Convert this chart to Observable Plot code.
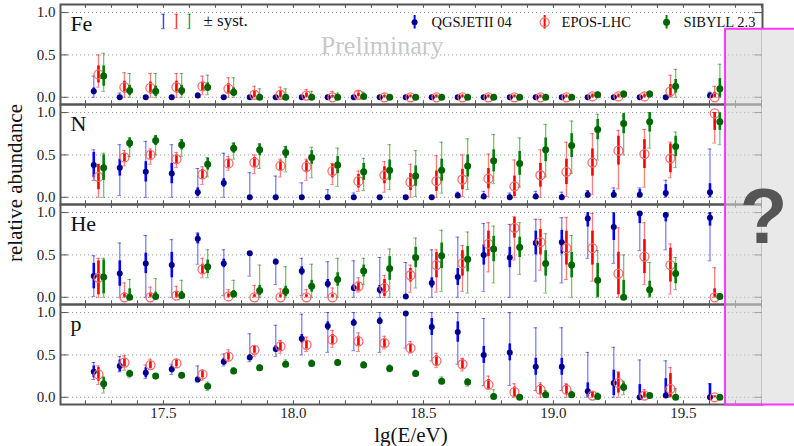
<!DOCTYPE html>
<html><head><meta charset="utf-8">
<script src="https://cdn.jsdelivr.net/npm/d3@7"></script>
<script src="https://cdn.jsdelivr.net/npm/@observablehq/plot@0.6"></script>
<style>
body{margin:0;background:#fff;}
#wrap{position:relative;width:794px;height:446px;font-family:"Liberation Serif",serif;color:#111;overflow:hidden;}
.ov{position:absolute;white-space:nowrap;line-height:1;}
</style></head><body><div id="wrap"></div>
<script>
const elements = ["Fe","N","He","p"];
const models = ["QGSJETII 04","EPOS-LHC","SIBYLL 2.3"];
const energies = [17.25,17.35,17.45,17.55,17.65,17.75,17.85,17.95,18.05,18.15,18.25,18.35,18.45,18.55,18.65,18.75,18.85,18.95,19.05,19.15,19.25,19.35,19.45,19.62];
const xTicks = [17.5,18.0,18.5,19.0,19.5];
const yTicks = [0,0.5,1.0];

// each point: [value, syst low, syst high, stat half-width]
const fe_qgs = [[0.07,0,0.25,0.04],[0,0,0.05,0.02],[0,0,0.02,0.01],[0,0,0.02,0.01],[0.02,0,0.05,0.02],[0,0,0.02,0.01],[0,0,0.02,0.01],[0,0,0.02,0.01],[0,0,0.02,0.01],[0,0,0.02,0.01],[0,0,0.02,0.01],[0,0,0.02,0.01],[0,0,0.02,0.01],[0,0,0.02,0.01],[0,0,0.02,0.01],[0,0,0.02,0.01],[0,0,0.02,0.01],[0,0,0.02,0.01],[0,0,0.02,0.01],[0,0,0.02,0.01],[0,0,0.02,0.01],[0,0,0.02,0.01],[0,0,0.02,0.01],[0.02,0,0.06,0.03]];
const fe_epos = [[0.27,0.12,0.50,0.10],[0.12,0,0.29,0.07],[0.11,0,0.28,0.07],[0.12,0,0.28,0.07],[0.13,0.03,0.25,0.05],[0.10,0,0.23,0.06],[0.03,0,0.13,0.04],[0.03,0,0.12,0.04],[0.02,0,0.09,0.03],[0,0,0.07,0.02],[0.03,0,0.07,0.02],[0,0,0.04,0.02],[0,0,0.03,0.02],[0,0,0.03,0.02],[0,0,0.03,0.02],[0,0,0.03,0.02],[0,0,0.03,0.02],[0,0,0.03,0.02],[0,0,0.03,0.02],[0.01,0,0.04,0.02],[0.01,0,0.04,0.02],[0.01,0,0.05,0.02],[0.07,0,0.26,0.08],[0,0,0.13,0.06]];
const fe_sib = [[0.25,0.07,0.52,0.12],[0.08,0,0.28,0.06],[0.07,0,0.28,0.06],[0.08,0,0.28,0.06],[0.12,0.03,0.26,0.05],[0.06,0,0.23,0.05],[0,0,0.10,0.03],[0,0,0.10,0.03],[0,0,0.07,0.02],[0,0,0.05,0.02],[0.01,0,0.06,0.02],[0,0,0.02,0.01],[0,0,0.02,0.01],[0,0,0.02,0.01],[0,0,0.02,0.01],[0,0,0.02,0.01],[0,0,0.02,0.01],[0,0,0.02,0.01],[0,0,0.02,0.01],[0.03,0,0.06,0.03],[0.04,0,0.07,0.03],[0.04,0,0.07,0.03],[0.13,0,0.33,0.08],[0.10,0,0.39,0.12]];

const n_qgs = [[0.38,0.20,0.56,0.15],[0.35,0.02,0.62,0.10],[0.30,0,0.66,0.12],[0.28,0,0.62,0.12],[0.06,0,0.34,0.05],[0.17,0,0.52,0.05],[0,0,0.29,0.02],[0,0,0.25,0.02],[0,0,0.17,0.02],[0,0,0.09,0.02],[0,0,0.05,0.02],[0,0,0.01,0.01],[0,0,0.02,0.01],[0,0,0.02,0.01],[0.02,0,0.06,0.03],[0.01,0,0.07,0.03],[0,0,0.05,0.03],[0.01,0,0.07,0.03],[0,0,0.06,0.03],[0.03,0,0.08,0.04],[0.03,0,0.11,0.05],[0.03,0,0.11,0.06],[0.05,0,0.20,0.10],[0.06,0,0.57,0.10]];
const n_epos = [[0.24,0,0.36,0.15],[0.47,0.37,0.55,0.05],[0.50,0.39,0.57,0.05],[0.45,0.35,0.53,0.05],[0.27,0.15,0.36,0.06],[0.40,0.32,0.48,0.05],[0.41,0.28,0.50,0.06],[0.37,0.24,0.45,0.06],[0.36,0.20,0.45,0.07],[0.31,0.15,0.40,0.08],[0.19,0.07,0.31,0.08],[0.26,0.06,0.42,0.10],[0.18,0,0.39,0.10],[0.19,0,0.49,0.12],[0.21,0.01,0.50,0.12],[0.22,0.01,0.51,0.12],[0.13,0,0.44,0.12],[0.26,0,0.56,0.14],[0.30,0.01,0.65,0.15],[0.41,0.03,0.75,0.16],[0.55,0.10,0.79,0.17],[0.51,0.12,0.80,0.17],[0.46,0.23,0.65,0.17],[0.99,0.64,1.0,0.20]];
const n_sib = [[0.35,0,0.52,0.15],[0.64,0.48,0.70,0.06],[0.67,0.50,0.72,0.06],[0.62,0.48,0.68,0.06],[0.39,0.24,0.47,0.07],[0.58,0.45,0.64,0.06],[0.56,0.34,0.63,0.07],[0.53,0.30,0.60,0.07],[0.47,0.23,0.59,0.08],[0.38,0.13,0.58,0.10],[0.30,0.08,0.46,0.10],[0.32,0.09,0.62,0.12],[0.25,0.01,0.55,0.12],[0.32,0.05,0.65,0.13],[0.37,0.09,0.69,0.13],[0.43,0.16,0.74,0.13],[0.40,0.12,0.70,0.14],[0.56,0.24,0.86,0.14],[0.61,0.28,0.90,0.14],[0.80,0.44,0.98,0.12],[0.87,0.50,0.96,0.12],[0.89,0.58,1.0,0.12],[0.60,0.35,0.77,0.12],[0.89,0.62,1.0,0.10]];

const he_qgs = [[0.25,0.01,0.49,0.15],[0.28,0,0.64,0.15],[0.40,0,0.73,0.12],[0.38,0,0.68,0.15],[0.69,0.39,0.76,0.06],[0.40,0.02,0.56,0.05],[0.52,0.25,0.54,0.02],[0.42,0.15,0.45,0.03],[0.31,0.02,0.46,0.05],[0.16,0,0.42,0.05],[0.11,0,0.43,0.04],[0.09,0,0.47,0.05],[0.01,0,0.41,0.02],[0.17,0,0.56,0.06],[0.24,0,0.71,0.10],[0.50,0.07,0.87,0.12],[0.47,0,0.86,0.12],[0.64,0.19,0.92,0.14],[0.65,0.17,0.94,0.14],[0.93,0.46,0.97,0.10],[0.83,0.40,1.0,0.16],[0.99,0.55,1.0,0.12],[0.97,0.56,0.98,0.08],[0.94,0.43,0.99,0.10]];
const he_epos = [[0.23,0,0.46,0.20],[0,0,0.17,0.05],[0,0,0.12,0.05],[0.02,0,0.13,0.05],[0.33,0.23,0.46,0.06],[0.01,0,0.09,0.03],[0,0,0.14,0.03],[0,0,0.10,0.03],[0,0,0.09,0.03],[0,0,0.11,0.03],[0.13,0.06,0.23,0.05],[0.11,0,0.26,0.10],[0.26,0.06,0.38,0.08],[0.38,0.06,0.56,0.15],[0.40,0.07,0.61,0.15],[0.63,0.30,0.88,0.15],[0.82,0.44,0.95,0.12],[0.65,0.32,0.92,0.15],[0.58,0.21,0.94,0.20],[0.58,0.19,0.99,0.20],[0.28,0,0.82,0.25],[0.48,0.15,0.88,0.20],[0.38,0.04,0.63,0.20],[0,0,0.35,0.10]];
const he_sib = [[0.24,0,0.46,0.20],[0,0,0.21,0.10],[0.01,0,0.22,0.05],[0.02,0,0.20,0.05],[0.36,0.23,0.56,0.08],[0.04,0,0.20,0.04],[0.08,0,0.38,0.06],[0.07,0,0.36,0.06],[0.13,0,0.39,0.07],[0.21,0,0.46,0.08],[0.31,0.15,0.46,0.07],[0.34,0,0.57,0.14],[0.47,0.11,0.70,0.12],[0.49,0.07,0.79,0.15],[0.45,0.05,0.77,0.15],[0.57,0.17,0.84,0.15],[0.59,0.27,0.88,0.12],[0.40,0.05,0.75,0.15],[0.38,0,0.73,0.15],[0.20,0,0.55,0.20],[0,0,0.50,0.20],[0.09,0,0.41,0.10],[0.28,0.09,0.47,0.12],[0.01,0,0.04,0.02]];

const p_qgs = [[0.30,0.21,0.41,0.07],[0.37,0.30,0.48,0.07],[0.29,0.22,0.38,0.06],[0.33,0.27,0.39,0.04],[0.21,0.18,0.37,0.03],[0.42,0.37,0.51,0.04],[0.47,0.42,0.75,0.03],[0.57,0.48,0.85,0.04],[0.69,0.50,0.98,0.05],[0.84,0.53,1.0,0.05],[0.88,0.55,1.0,0.04],[0.90,0.53,1.0,0.04],[0.99,0.58,1.0,0.03],[0.83,0.43,1.0,0.10],[0.77,0.39,1.0,0.12],[0.50,0.14,0.93,0.10],[0.53,0.14,1.0,0.10],[0.36,0.08,0.82,0.10],[0.36,0.08,0.82,0.10],[0.07,0,0.53,0.10],[0.17,0,0.59,0.15],[0,0,0.44,0.15],[0.02,0,0.43,0.20],[0,0,0.16,0.16]];
const p_epos = [[0.27,0.15,0.37,0.08],[0.41,0.32,0.49,0.05],[0.38,0.33,0.45,0.04],[0.40,0.35,0.45,0.04],[0.27,0.20,0.32,0.04],[0.48,0.42,0.56,0.04],[0.56,0.48,0.61,0.04],[0.60,0.52,0.67,0.05],[0.62,0.54,0.71,0.05],[0.68,0.59,0.79,0.06],[0.66,0.54,0.76,0.06],[0.64,0.57,0.72,0.05],[0.58,0.52,0.66,0.05],[0.43,0.35,0.52,0.06],[0.39,0.31,0.46,0.06],[0.15,0.10,0.25,0.06],[0.06,0,0.16,0.06],[0.09,0,0.17,0.06],[0.09,0,0.16,0.06],[0.02,0,0.07,0.04],[0.17,0,0.30,0.12],[0.02,0,0.09,0.04],[0.10,0,0.35,0.18],[0,0,0.02,0.01]];
const p_sib = [[0.16,0.05,0.24,0.07],[0.28,0.23,0.32,0.03],[0.25,0.22,0.28,0.02],[0.26,0.23,0.29,0.02],[0.13,0.08,0.18,0.03],[0.31,0.28,0.35,0.02],[0.35,0.32,0.38,0.02],[0.39,0.36,0.44,0.02],[0.40,0.37,0.44,0.02],[0.41,0.38,0.44,0.02],[0.38,0.35,0.42,0.02],[0.34,0.30,0.38,0.02],[0.28,0.25,0.32,0.02],[0.19,0.16,0.24,0.02],[0.18,0.13,0.22,0.03],[0.01,0,0.09,0.03],[0,0,0.03,0.02],[0.03,0,0.08,0.03],[0.03,0,0.07,0.03],[0.01,0,0.05,0.02],[0.12,0.03,0.19,0.05],[0.02,0,0.05,0.02],[0,0,0.10,0.03],[0,0,0.02,0.01]];

const series = {Fe:[fe_qgs,fe_epos,fe_sib], N:[n_qgs,n_epos,n_sib], He:[he_qgs,he_epos,he_sib], p:[p_qgs,p_epos,p_sib]};

// ---- styles / layout (not data) ----
const style = [
  {dx:-0.018, bar:"#0000ff", mark:"#00008b", r:3, open:false},
  {dx:0.0,    bar:"#ff0000", mark:"#ff6a6a", r:4.5, open:true},
  {dx:0.02,   bar:"#008000", mark:"#006400", r:3.5, open:false}
];
const X0 = 17.104, X1 = 19.804, Y0 = -0.085, Y1 = 1.095;
const boxX = 19.66, boxTopFe = 0.81, cap = 0.007;

const rows = [];
elements.forEach(el => series[el].forEach((arr, mi) => arr.forEach((t, i) => {
  rows.push({el, mi, x: energies[i] + style[mi].dx, v:t[0], lo:t[1], hi:t[2],
    s1: Math.max(0, t[0]-t[3]), s2: Math.min(1, t[0]+t[3])});
})));

const minor = d3.range(17.2, 19.81, 0.1);
const marks = [];

// dotted grid
marks.push(Plot.ruleY(yTicks, {x1:X0, x2:X1, stroke:"#999", strokeWidth:1, strokeDasharray:"1.2,2.8"}));
// frame ticks
marks.push(Plot.ruleX(minor, {y1:Y1, y2:Y1-0.045, stroke:"#555", strokeWidth:1}));
marks.push(Plot.ruleX(minor, {y1:Y0, y2:Y0+0.045, stroke:"#555", strokeWidth:1}));
marks.push(Plot.ruleY(yTicks, {x1:X0, x2:X0+0.03, stroke:"#555", strokeWidth:1}));
marks.push(Plot.ruleY(yTicks, {x1:X1, x2:X1-0.03, stroke:"#555", strokeWidth:1}));
marks.push(Plot.frame({stroke:"#555", strokeWidth:2}));

// error bars and markers
style.forEach((s, mi) => {
  const d = rows.filter(r => r.mi === mi);
  marks.push(Plot.ruleX(d, {x:"x", y1:"lo", y2:"hi", fy:"el", stroke:s.bar, strokeOpacity:0.5, strokeWidth:1.3}));
  marks.push(Plot.ruleY(d, {y:"lo", x1:r=>r.x-cap, x2:r=>r.x+cap, fy:"el", stroke:s.bar, strokeOpacity:0.5, strokeWidth:1}));
  marks.push(Plot.ruleY(d, {y:"hi", x1:r=>r.x-cap, x2:r=>r.x+cap, fy:"el", stroke:s.bar, strokeOpacity:0.5, strokeWidth:1}));
  marks.push(Plot.ruleX(d, {x:"x", y1:"s1", y2:"s2", fy:"el", stroke:s.bar, strokeWidth:2.6}));
  if (s.open) marks.push(Plot.dot(d, {x:"x", y:"v", fy:"el", r:s.r, stroke:s.mark, strokeWidth:1.3, fill:"none"}));
  else marks.push(Plot.dot(d, {x:"x", y:"v", fy:"el", r:s.r, fill:s.mark, stroke:"none"}));
});

// grey "?" region with magenta outline
const boxSpan = elements.map(el => ({el, lo: Y0, hi: el === "Fe" ? boxTopFe : Y1}));
marks.push(Plot.rect(boxSpan, {x1:boxX, x2:X1, y1:"lo", y2:"hi", fy:"el", fill:"#d6d6d6", fillOpacity:0.6}));
marks.push(Plot.rect(boxSpan, {x1:X1, x2:20.0, y1:"lo", y2:"hi", fy:"el", fill:"#e9e9e9"}));
marks.push(Plot.ruleX(boxSpan, {x:boxX, y1:"lo", y2:"hi", fy:"el", stroke:"#ff33ff", strokeWidth:2}));
marks.push(Plot.ruleY([{el:"Fe"}], {y:boxTopFe, x1:boxX, x2:20.0, fy:"el", stroke:"#ff33ff", strokeWidth:2}));
marks.push(Plot.ruleY([{el:"p"}], {y:Y0, x1:boxX, x2:20.0, fy:"el", stroke:"#ff33ff", strokeWidth:2}));
marks.push(Plot.text([{el:"He", t:"?"}], {x:19.808, y:0.93, text:"t", fy:"el", fontSize:78, fill:"#555", fontFamily:"Liberation Sans", fontWeight:"bold"}));

// panel labels
marks.push(Plot.text(elements.map(el => ({el})), {x:17.142, y:0.87, text:"el", fy:"el", textAnchor:"start", fontSize:22, fill:"#111"}));
// watermark
marks.push(Plot.text([{el:"Fe", t:"Preliminary"}], {x:18.341, y:0.606, text:"t", fy:"el", fontSize:26, fill:"#c8c8c8"}));

// legend
const legSyst = [17.50, 17.55, 17.60];
const legX = [18.466, 18.966, 19.435];
const legY = 0.885;
style.forEach((s, mi) => {
  const L = [{el:"Fe", x:legSyst[mi]}];
  marks.push(Plot.ruleX(L, {x:"x", y1:0.81, y2:0.98, fy:"el", stroke:s.bar, strokeOpacity:0.75, strokeWidth:1.5}));
  marks.push(Plot.ruleY(L, {y:0.81, x1:r=>r.x-cap, x2:r=>r.x+cap, fy:"el", stroke:s.bar, strokeOpacity:0.6}));
  marks.push(Plot.ruleY(L, {y:0.98, x1:r=>r.x-cap, x2:r=>r.x+cap, fy:"el", stroke:s.bar, strokeOpacity:0.6}));
  const M = [{el:"Fe", x:legX[mi], t:models[mi]}];
  marks.push(Plot.ruleX(M, {x:"x", y1:legY-0.08, y2:legY+0.08, fy:"el", stroke:s.bar, strokeWidth:2}));
  if (s.open) marks.push(Plot.dot(M, {x:"x", y:legY, fy:"el", r:s.r, stroke:s.mark, strokeWidth:1.3, fill:"none"}));
  else marks.push(Plot.dot(M, {x:"x", y:legY, fy:"el", r:s.r, fill:s.mark}));
  marks.push(Plot.text(M, {x:r=>r.x+0.065, y:legY, text:"t", fy:"el", textAnchor:"start", fontSize:14.5, fill:"#111"}));
});
marks.push(Plot.text([{el:"Fe", t:"± syst."}], {x:17.654, y:0.9, text:"t", fy:"el", textAnchor:"start", fontSize:17, fill:"#111"}));

const chart = Plot.plot({
  width: 794, height: 446,
  marginLeft: 60, marginRight: 32, marginTop: 3, marginBottom: 41,
  style: {fontFamily: "Liberation Serif", fontSize: "15px", color: "#222", background: "white"},
  x: {domain: [X0, X1], ticks: xTicks, tickFormat: d3.format(".1f"), tickSize: 0, tickPadding: 3, label: null},
  y: {domain: [Y0, Y1], ticks: yTicks, tickFormat: d3.format(".1f"), tickSize: 0, tickPadding: 5, label: null},
  fy: {domain: elements, padding: 0, axis: null, label: null},
  marks
});
const wrap = document.getElementById("wrap");
wrap.appendChild(chart);

const yl = document.createElement("div");
yl.className = "ov"; yl.textContent = "relative abundance";
yl.style.cssText = "left:15px;top:183px;font-size:21px;transform:translate(-50%,-50%) rotate(-90deg);";
wrap.appendChild(yl);
const xl = document.createElement("div");
xl.className = "ov"; xl.textContent = "lg(E/eV)";
xl.style.cssText = "left:411px;top:435px;font-size:21px;transform:translate(-50%,-50%);";
wrap.appendChild(xl);
</script></body></html>
